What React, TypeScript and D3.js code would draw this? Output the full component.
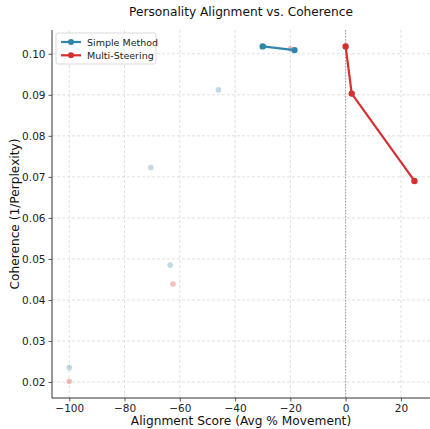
import React, { useEffect, useRef } from 'react'
import * as d3 from 'd3'

// main lines
const simpleX = [-30, -18.5]
const simpleY = [0.1018, 0.1009]
const multiX = [0, 2.2, 24.9]
const multiY = [0.1018, 0.0903, 0.069]

// faded individual points
const simpleFadedX = [-46, -70.5, -63.5, -100]
const simpleFadedY = [0.0912, 0.0723, 0.0485, 0.0235]
const multiFadedX = [-62.5, -100, -20]
const multiFadedY = [0.0439, 0.0202, 0.1012]

const xTicks = [-100, -80, -60, -40, -20, 0, 20]
const yTicks = [0.02, 0.03, 0.04, 0.05, 0.06, 0.07, 0.08, 0.09, 0.10]

const seriesNames = ['Simple Method', 'Multi-Steering']
const colors = ['#2E86AB', '#D62F2F']

const W = 430, H = 429
const margin = { left: 52, top: 30, right: -2, bottom: 31 }

const App = () => {
    const ref = useRef<SVGSVGElement>(null)

    useEffect(() => {
        const svg = d3.select(ref.current)
        svg.selectAll('*').remove()
        const font = 'DejaVu Sans'

        const x = d3.scaleLinear().domain([-106.25, 31.25]).range([margin.left, W - margin.right])
        const y = d3.scaleLinear().domain([0.0161, 0.1058]).range([H - margin.bottom, margin.top])

        const g = svg.append('g')

        // grid
        g.selectAll('.gx').data(xTicks).enter().append('line')
            .attr('x1', d => x(d)).attr('x2', d => x(d))
            .attr('y1', margin.top).attr('y2', H - margin.bottom)
            .attr('stroke', '#d8d8d8').attr('stroke-width', 0.8).attr('stroke-dasharray', '3,2')
        g.selectAll('.gy').data(yTicks).enter().append('line')
            .attr('x1', margin.left).attr('x2', W)
            .attr('y1', d => y(d)).attr('y2', d => y(d))
            .attr('stroke', '#d8d8d8').attr('stroke-width', 0.8).attr('stroke-dasharray', '3,2')

        // zero line
        g.append('line')
            .attr('x1', x(0)).attr('x2', x(0))
            .attr('y1', margin.top).attr('y2', H - margin.bottom)
            .attr('stroke', '#999').attr('stroke-width', 1).attr('stroke-dasharray', '1.5,1.5')

        // faded points
        g.selectAll('.fs').data(simpleFadedX).enter().append('circle')
            .attr('cx', d => x(d)).attr('cy', (d, i) => y(simpleFadedY[i])).attr('r', 2.8)
            .attr('fill', colors[0]).attr('opacity', 0.3)
        g.selectAll('.fm').data(multiFadedX).enter().append('circle')
            .attr('cx', d => x(d)).attr('cy', (d, i) => y(multiFadedY[i])).attr('r', 2.8)
            .attr('fill', colors[1]).attr('opacity', 0.3)

        // lines
        const series = [[simpleX, simpleY], [multiX, multiY]]
        series.forEach(([xs, ys], si) => {
            const pts = xs.map((v, i) => [v, ys[i]] as [number, number])
            g.append('path')
                .attr('d', d3.line().x(d => x(d[0])).y(d => y(d[1]))(pts))
                .attr('fill', 'none').attr('stroke', colors[si]).attr('stroke-width', 2.2)
            g.selectAll('.p' + si).data(pts).enter().append('circle')
                .attr('cx', d => x(d[0])).attr('cy', d => y(d[1])).attr('r', 3.2)
                .attr('fill', colors[si])
        })

        // axes
        const xa = g.append('g').attr('transform', `translate(0,${H - margin.bottom})`)
            .call(d3.axisBottom(x).tickValues(xTicks).tickSize(3.5).tickPadding(3).tickFormat(d => d3.format('d')(+d).replace('-', '\u2212')))
        const ya = g.append('g').attr('transform', `translate(${margin.left},0)`)
            .call(d3.axisLeft(y).tickValues(yTicks).tickSize(3.5).tickPadding(3).tickFormat(d3.format('.2f')))
        ;[xa, ya].forEach(a => {
            a.selectAll('text').attr('font-family', font).attr('font-size', 10.5).attr('fill', '#222')
            a.selectAll('line').attr('stroke', '#333').attr('stroke-width', 0.8)
            a.select('.domain').attr('stroke', '#333').attr('stroke-width', 1)
        })
        xa.select('.domain').attr('d', `M${margin.left},0H${W}`)
        ya.select('.domain').attr('d', `M0,${margin.top}V${H - margin.bottom}`)

        // labels
        svg.append('text').attr('x', 241).attr('y', 16).attr('text-anchor', 'middle')
            .attr('font-family', font).attr('font-size', 12.2).attr('fill', '#111')
            .text('Personality Alignment vs. Coherence')
        svg.append('text').attr('x', 241).attr('y', 425).attr('text-anchor', 'middle')
            .attr('font-family', font).attr('font-size', 12.2).attr('fill', '#111')
            .text('Alignment Score (Avg % Movement)')
        svg.append('text').attr('transform', `translate(19,${(margin.top + H - margin.bottom) / 2}) rotate(-90)`)
            .attr('text-anchor', 'middle')
            .attr('font-family', font).attr('font-size', 12.2).attr('fill', '#111')
            .text('Coherence (1/Perplexity)')

        // legend
        const lg = svg.append('g').attr('transform', 'translate(56,33)')
        lg.append('rect').attr('width', 100).attr('height', 31).attr('rx', 2)
            .attr('fill', 'white').attr('fill-opacity', 0.85).attr('stroke', '#d0d0d0').attr('stroke-width', 0.8)
        seriesNames.forEach((name, i) => {
            const yy = 9 + i * 13.3
            lg.append('line').attr('x1', 5).attr('x2', 25).attr('y1', yy).attr('y2', yy)
                .attr('stroke', colors[i]).attr('stroke-width', 2.2)
            lg.append('circle').attr('cx', 15).attr('cy', yy).attr('r', 3).attr('fill', colors[i])
            lg.append('text').attr('x', 31).attr('y', yy + 3.5)
                .attr('font-family', font).attr('font-size', 9.5).attr('fill', '#222').text(name)
        })
    }, [])

    return <svg ref={ref} width={W} height={H} style={{ position: 'absolute', left: 0, top: 0 }}></svg>
}

export default App
